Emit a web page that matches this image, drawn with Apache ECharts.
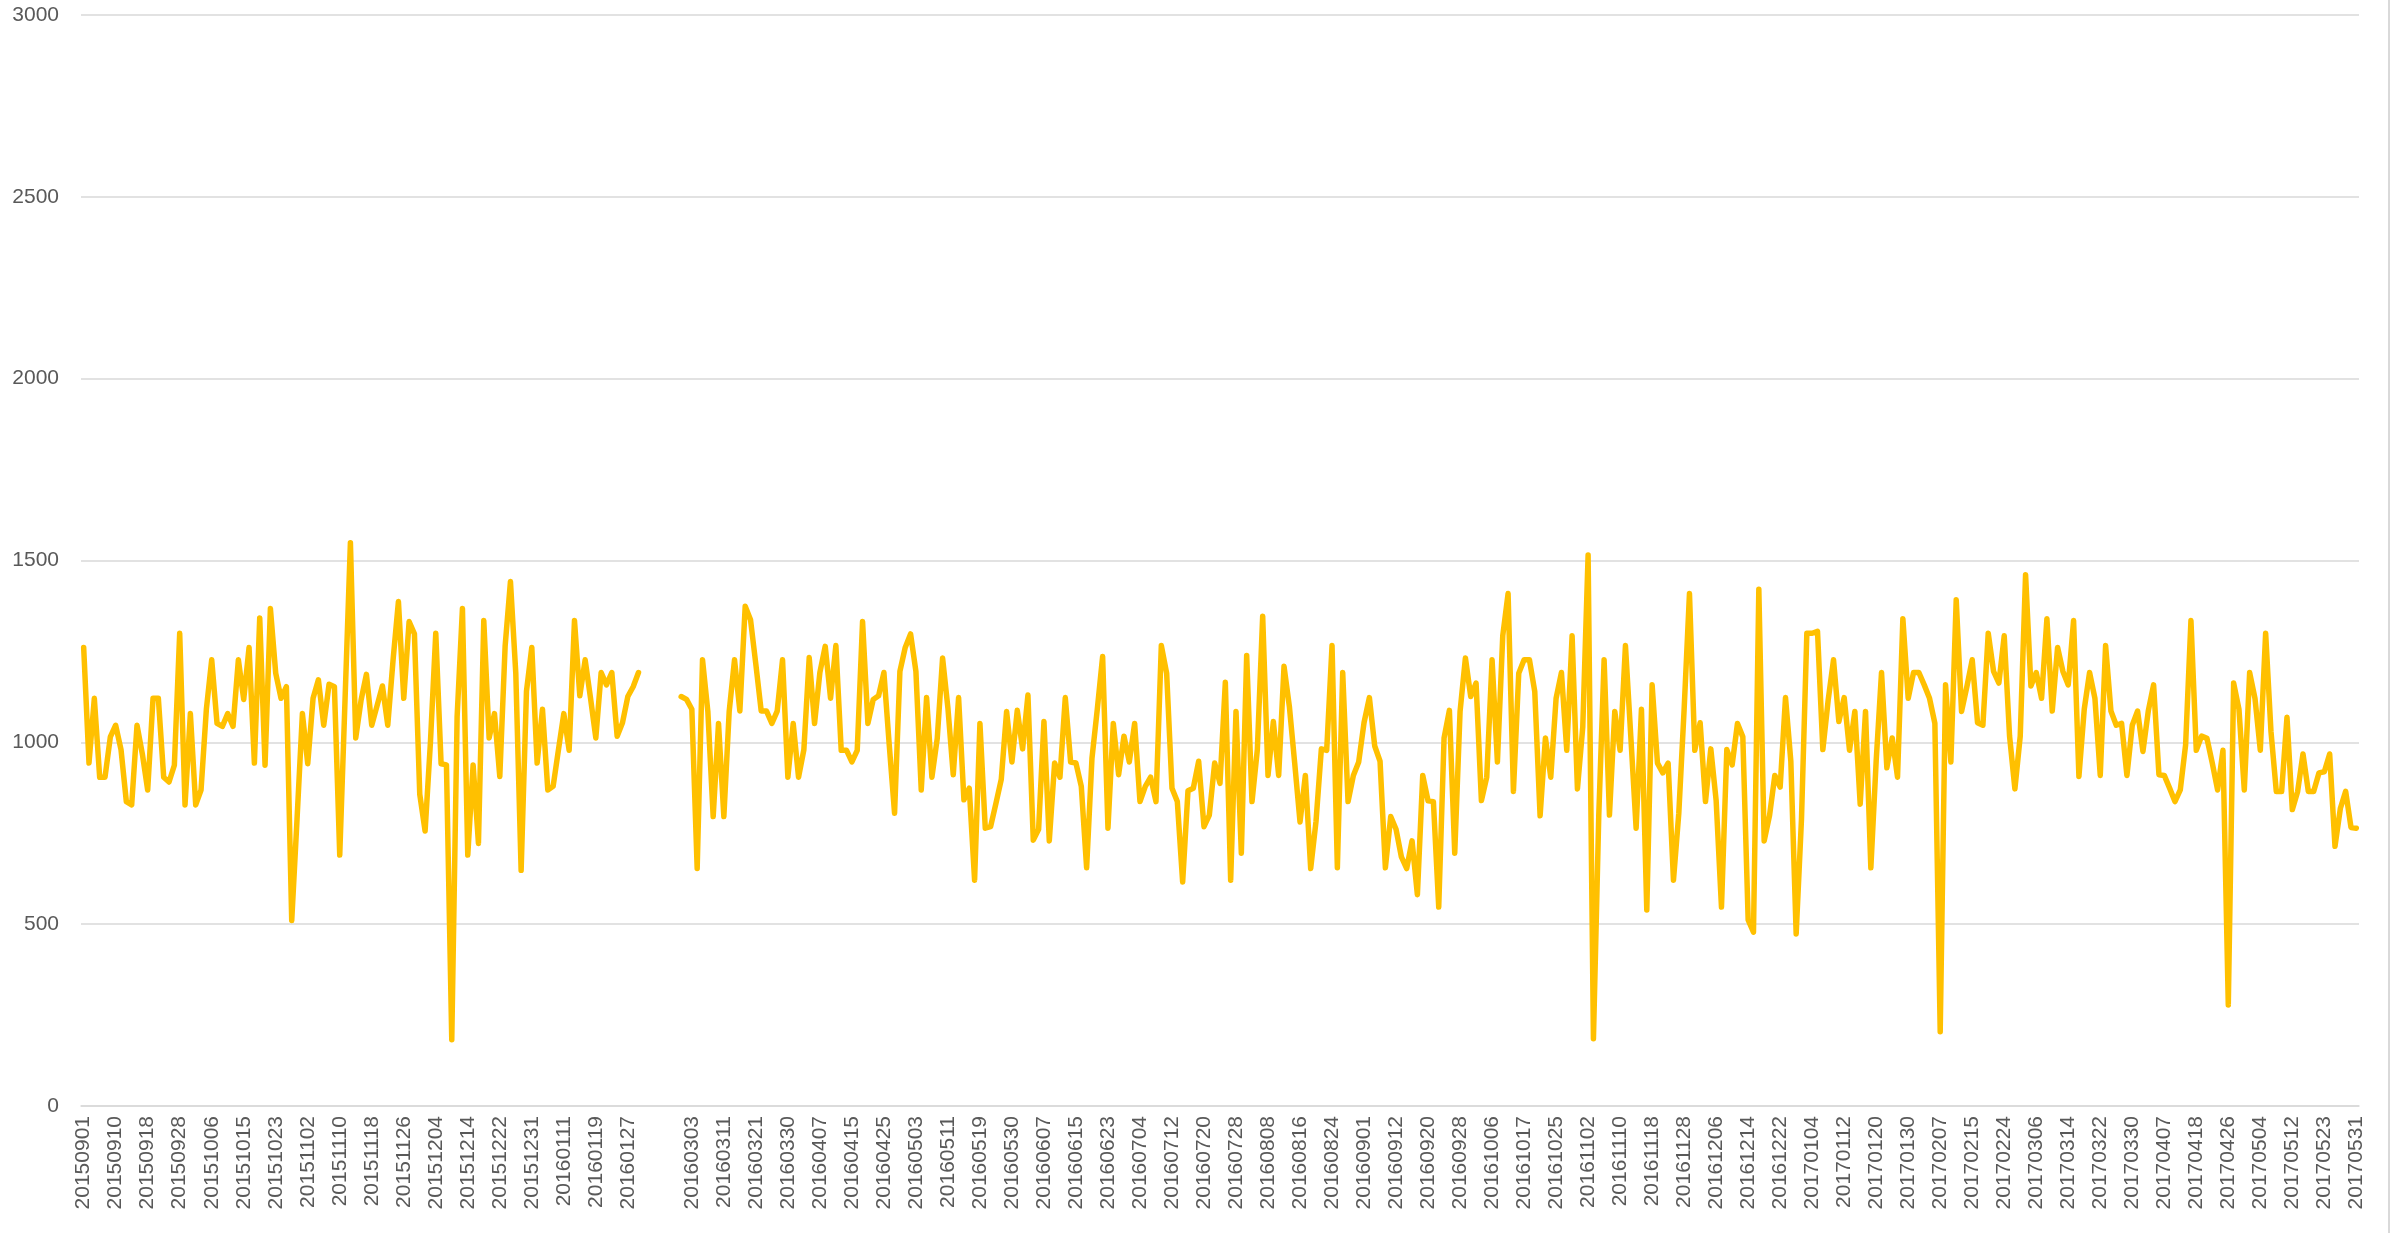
<!DOCTYPE html>
<html>
<head>
<meta charset="utf-8">
<title>line chart</title>
<script src="https://cdn.jsdelivr.net/npm/echarts@6/dist/echarts.min.js"></script>
<style>
	html, body { margin: 0; padding: 0; background: #fff; }
	#echart_line_chart { width: 2403px; height: 1233px; }
</style>
</head>
<body>
<div id="echart_line_chart"></div>
<script>
// one label every 6 days on the axis, '' = empty slot in the data gap
var tickLabels = [
	'20150901', '20150910', '20150918', '20150928', '20151006', '20151015',
	'20151023', '20151102', '20151110', '20151118', '20151126', '20151204',
	'20151214', '20151222', '20151231', '20160111', '20160119', '20160127',
	'',
	'20160303', '20160311', '20160321', '20160330', '20160407', '20160415',
	'20160425', '20160503', '20160511', '20160519', '20160530', '20160607',
	'20160615', '20160623', '20160704', '20160712', '20160720', '20160728',
	'20160808', '20160816', '20160824', '20160901', '20160912', '20160920',
	'20160928', '20161006', '20161017', '20161025', '20161102', '20161110',
	'20161118', '20161128', '20161206', '20161214', '20161222', '20170104',
	'20170112', '20170120', '20170130', '20170207', '20170215', '20170224',
	'20170306', '20170314', '20170322', '20170330', '20170407', '20170418',
	'20170426', '20170504', '20170512', '20170523', '20170531'
];
var labelStep = 6;

var values2015 = [
	1261, 943, 1121, 904, 904, 1015, 1047, 980, 837, 828, 1047, 968, 869, 1121, 1121, 904, 891, 937,
	1300, 828, 1079, 828, 869, 1091, 1227, 1052, 1044, 1079, 1044, 1227, 1118, 1261, 943, 1342, 937, 1368,
	1190, 1121, 1153, 510, 790, 1079, 941, 1121, 1172, 1047, 1160, 1153, 690, 1120, 1549, 1012, 1116, 1187,
	1047, 1101, 1155, 1047, 1227, 1387, 1121, 1332, 1298, 857, 756, 1000, 1300, 941, 938, 182, 1070, 1368,
	690, 938, 722, 1335, 1012, 1079, 906, 1264, 1442, 1190, 648, 1140, 1261, 943, 1091, 869, 879, 980,
	1079, 978, 1335, 1128, 1227, 1122, 1012, 1192, 1158, 1192, 1017, 1054, 1126, 1153, 1192
];
// days with no data (february 2016)
var gapValues = [null, null, null, null, null, null, null];
var values2016 = [
	1126, 1118, 1091, 653, 1227, 1085, 796, 1052, 796, 1085, 1227, 1086, 1374, 1337, 1214, 1086,
	1086, 1052, 1086, 1227, 904, 1052, 904, 980, 1233, 1052, 1192, 1264, 1121, 1266, 978, 978,
	946, 978, 1332, 1052, 1118, 1128, 1192, 993, 805, 1195, 1261, 1298, 1195, 869, 1123, 904, 1011, 1232,
	1094, 911, 1123, 842, 874, 621, 1052, 764, 768, 832, 898, 1085, 946, 1088, 982, 1130, 731, 761,
	1057, 729, 943, 904, 1123, 946, 943, 879, 655, 956, 1091, 1236, 764, 1052, 911, 1017, 946, 1052,
	837, 879, 904, 837, 1266, 1190, 874, 837, 616, 867, 874, 948, 768, 800, 943, 887, 1165, 621,
	1085, 695, 1239, 837, 980, 1347, 909, 1057, 909, 1209, 1099, 943, 781, 909, 653, 783, 982, 978,
	1266, 655, 1192, 837, 909, 946, 1054, 1123, 990, 948, 655, 796, 761, 685, 653, 729, 581, 909,
	839, 837, 547, 1012, 1088, 695, 1085, 1232, 1126, 1163, 840, 904, 1227, 946, 1293, 1409, 865, 1190,
	1227, 1227, 1140, 798, 1012, 904, 1121, 1192, 978, 1293, 872, 1042, 1515, 185, 800, 1227, 800, 1085,
	978, 1266, 1017, 764, 1091, 539, 1158, 943, 916, 943, 621, 805, 1091, 1409, 978, 1054, 837, 982,
	840, 547, 980, 938, 1052, 1015, 512, 478, 1421, 729, 798, 909, 877, 1123, 948, 473, 790, 1300
];
var values2017 = [
	1300, 1305, 980, 1116, 1227, 1057, 1123, 978, 1085, 830, 1085, 655, 950, 1192, 930, 1012, 904, 1340,
	1121, 1192, 1192, 1158, 1121, 1052, 204, 1158, 946, 1392, 1085, 1153, 1227, 1054, 1047, 1300, 1195, 1163,
	1293, 1017, 872, 1017, 1461, 1155, 1192, 1121, 1340, 1086, 1261, 1195, 1158, 1335, 906, 1091, 1192, 1121,
	909, 1266, 1086, 1047, 1052, 909, 1047, 1086, 975, 1086, 1158, 911, 909, 874, 837, 869, 993, 1335,
	978, 1017, 1011, 943, 869, 978, 278, 1163, 1091, 869, 1192, 1121, 978, 1300, 1030, 865, 865, 1069,
	815, 865, 968, 865, 865, 916, 919, 968, 714, 818, 865, 766, 764
];

var values = values2015.concat(gapValues, values2016, values2017);

// category list: the tick label on every 6th day, the days between are unnamed
var categories = [];
for (var i = 0; i < values.length; i++) {
	if (i % labelStep == 0) {
		categories.push(tickLabels[i / labelStep]);
	} else {
		categories.push('');
	}
}

var myChart = echarts.init(document.getElementById('echart_line_chart'));

var textStyle = {
	color: '#595959',
	fontFamily: 'Liberation Sans',
	fontSize: 21
};

option = {
	animation: false,
	grid: {
		left: 81,
		right: 44,
		top: 15,
		bottom: 127
	},
	xAxis: {
		type: 'category',
		data: categories,
		boundaryGap: true,
		axisLine: { lineStyle: { color: '#d9d9d9', width: 1.5 } },
		axisTick: { show: false },
		axisLabel: {
			interval: labelStep - 1,
			rotate: 90,
			margin: 10,
			color: textStyle.color,
			fontFamily: textStyle.fontFamily,
			fontSize: textStyle.fontSize
		}
	},
	yAxis: {
		type: 'value',
		min: 0,
		max: 3000,
		interval: 500,
		axisLine: { show: false },
		axisTick: { show: false },
		splitLine: { lineStyle: { color: '#d9d9d9', width: 1.5 } },
		axisLabel: {
			margin: 22,
			color: textStyle.color,
			fontFamily: textStyle.fontFamily,
			fontSize: textStyle.fontSize,
			formatter: function(v) {
				return String(v);
			}
		}
	},
	graphic: [{
		type: 'line',
		shape: { x1: 2389, y1: 0, x2: 2389, y2: 1233 },
		style: { stroke: '#d9d9d9', lineWidth: 2 }
	}],
	series: [{
		type: 'line',
		data: values,
		showSymbol: false,
		connectNulls: false,
		lineStyle: {
			color: '#FFC000',
			width: 5.5,
			join: 'round',
			cap: 'round'
		}
	}]
};

myChart.setOption(option);
</script>
</body>
</html>
